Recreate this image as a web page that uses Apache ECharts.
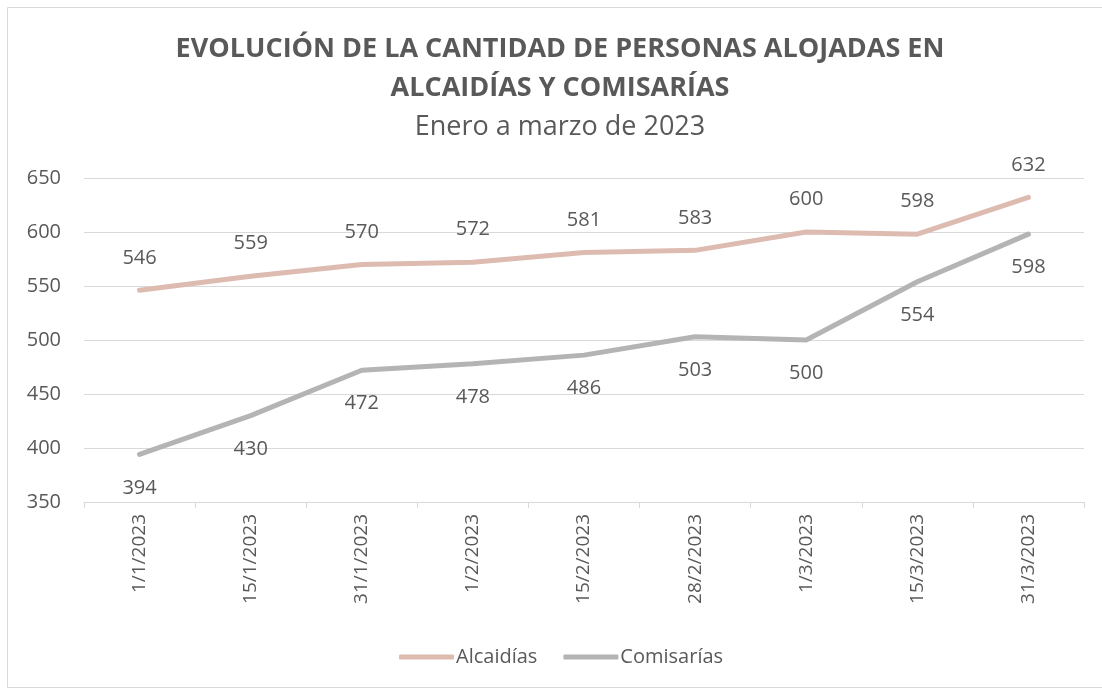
<!DOCTYPE html>
<html>
<head>
<meta charset="utf-8">
<script src="https://cdn.jsdelivr.net/npm/echarts@6/dist/echarts.min.js"></script>
<style>
  html, body { margin: 0; padding: 0; background: #fff; }
  #chart { width: 1102px; height: 691px; }
</style>
</head>
<body>
<div id="chart"></div>
<script>
const fechas = ["1/1/2023", "15/1/2023", "31/1/2023", "1/2/2023", "15/2/2023", "28/2/2023", "1/3/2023", "15/3/2023", "31/3/2023"];
const alcaidias = [546, 559, 570, 572, 581, 583, 600, 598, 632];
const comisarias = [394, 430, 472, 478, 486, 503, 500, 554, 598];

const txt = "#595959";
const font = "'Open Sans', sans-serif";
const colA = "#DDBBB0";
const colC = "#B4B4B4";

const chart = echarts.init(document.getElementById("chart"));
chart.setOption({
  animation: false,
  textStyle: { fontFamily: font, color: txt },
  graphic: [
    {
      type: "rect",
      shape: { x: 7.5, y: 7.5, width: 1100, height: 680 },
      style: { fill: "none", stroke: "#d9d9d9", lineWidth: 1 }
    },
    {
      type: "text", x: 560, y: 49,
      style: { text: "EVOLUCIÓN DE LA CANTIDAD DE PERSONAS ALOJADAS EN", textAlign: "center", textVerticalAlign: "middle",
        fontFamily: font, fontSize: 27, fontWeight: "bold", fill: txt }
    },
    {
      type: "text", x: 560, y: 88,
      style: { text: "ALCAIDÍAS Y COMISARÍAS", textAlign: "center", textVerticalAlign: "middle",
        fontFamily: font, fontSize: 27, fontWeight: "bold", fill: txt }
    },
    {
      type: "text", x: 560, y: 127,
      style: { text: "Enero a marzo de 2023", textAlign: "center", textVerticalAlign: "middle",
        fontFamily: font, fontSize: 27, fill: txt }
    }
  ],
  legend: {
    bottom: 19,
    left: 394,
    itemWidth: 55,
    itemHeight: 5,
    itemGap: 26,
    icon: "roundRect",
    textStyle: { fontFamily: font, fontSize: 20, color: txt, padding: [0, 0, 0, -3] },
    data: [
      { name: "Alcaidías", itemStyle: { color: colA, opacity: 1 } },
      { name: "Comisarías", itemStyle: { color: colC, opacity: 1 } }
    ]
  },
  grid: { left: 84, right: 18, top: 178, bottom: 189 },
  xAxis: {
    type: "category",
    data: fechas,
    boundaryGap: true,
    axisLine: { lineStyle: { color: "#d9d9d9" } },
    axisTick: { show: true, length: 6, lineStyle: { color: "#d9d9d9" } },
    axisLabel: { rotate: 90, color: txt, fontSize: 19, fontFamily: font, margin: 12 }
  },
  yAxis: {
    type: "value",
    min: 350,
    max: 650,
    interval: 50,
    axisLine: { show: false },
    axisTick: { show: false },
    splitLine: { lineStyle: { color: "#d9d9d9" } },
    axisLabel: { color: txt, fontSize: 20, fontFamily: font, margin: 23 }
  },
  series: [
    {
      name: "Alcaidías",
      type: "line",
      data: alcaidias,
      symbol: "circle",
      symbolSize: 1,
      showSymbol: true,
      itemStyle: { color: "rgba(0,0,0,0)" },
      lineStyle: { width: 5, color: colA, cap: "round" },
      label: { show: true, position: "top", distance: 22, color: txt, fontSize: 20, fontFamily: font }
    },
    {
      name: "Comisarías",
      type: "line",
      data: comisarias,
      symbol: "circle",
      symbolSize: 1,
      showSymbol: true,
      itemStyle: { color: "rgba(0,0,0,0)" },
      lineStyle: { width: 5, color: colC, cap: "round" },
      label: { show: true, position: "bottom", distance: 23, color: txt, fontSize: 20, fontFamily: font }
    }
  ]
});
</script>
</body>
</html>
